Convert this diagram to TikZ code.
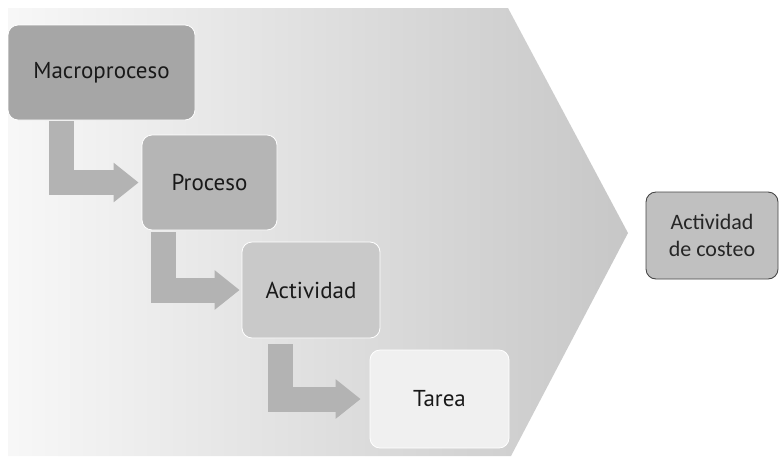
\documentclass[tikz,border=0pt]{standalone}
\usepackage{fontspec}
\setmainfont{Carlito}
\newfontfamily\levelfont{PT Sans}
\usetikzlibrary{arrows.meta}

\definecolor{macroGray}{HTML}{A6A6A6}
\definecolor{procGray}{HTML}{B5B5B5}
\definecolor{actGray}{HTML}{C9C9C9}
\definecolor{taskGray}{HTML}{F0F0F0}
\definecolor{arrowGray}{HTML}{B3B3B3}
\definecolor{costGray}{HTML}{C0C0C0}

\tikzset{
  levelbox/.style={rounded corners=10pt, draw=white, line width=0.8pt,
    text=black!90, font=\levelfont\fontsize{23}{27}\selectfont},
  bendarrow/.style={line width=25pt, arrowGray, line join=miter,
    -{Triangle[width=38pt,length=25pt]}},
}

\begin{document}
\begin{tikzpicture}[x=1pt,y=-1pt]
    \useasboundingbox (0,0) rectangle (784,456);

    % chevron behind the levels
    \shade[left color=black!3, right color=black!22, shading angle=90]
        (8,8) -- (508,8) -- (628,233) -- (511,456) -- (8,456) -- cycle;

    \node[levelbox, fill=macroGray, minimum width=187pt, minimum height=95pt]
        (macro) at (101.5,72.5) {Macroproceso};
    \node[levelbox, fill=procGray, minimum width=135pt, minimum height=95pt]
        (proceso) at (209.5,182.5) {Proceso};
    \node[levelbox, fill=actGray, minimum width=138pt, minimum height=96pt]
        (actividad) at (311,290) {Actividad};
    \node[levelbox, fill=taskGray, minimum width=139pt, minimum height=98pt]
        (tarea) at (439.5,399) {Tarea};

    \draw[bendarrow, shorten <=1pt, shorten >=3pt]
        ([xshift=54pt]macro.south west) |- (proceso.west);
    \draw[bendarrow, shorten <=2pt, shorten >=2pt]
        ([xshift=21.5pt]proceso.south west) |- (actividad.west);
    \draw[bendarrow, shorten <=6pt, shorten >=9pt]
        ([xshift=39pt]actividad.south west) |- (tarea.west);

    \node[rounded corners=10pt, draw=black!72, line width=0.9pt, fill=costGray,
        minimum width=132pt, minimum height=87pt, align=center, text=black!85,
        font=\fontsize{22}{27}\selectfont]
        (costeo) at (712,235.5) {Actividad\\de costeo};

\end{tikzpicture}
\end{document}
